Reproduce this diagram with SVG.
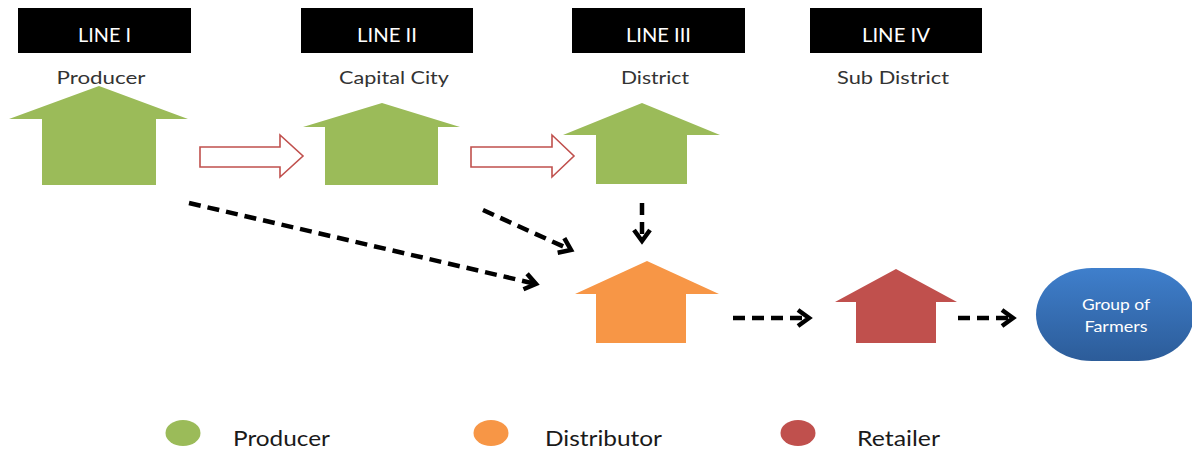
<svg xmlns="http://www.w3.org/2000/svg" width="1192" height="453" viewBox="0 0 1192 453">
  <defs>
    <style>
      .hdr { fill: #000; }
      .hdr-text { font-family: Lato, "Open Sans", sans-serif; font-size: 19px; fill: #fff; text-anchor: middle; }
      .lvl { font-family: Lato, "Open Sans", sans-serif; font-size: 18px; fill: #333; text-anchor: middle; }
      .producer { fill: #9bbb59; }
      .distributor { fill: #f79646; }
      .retailer { fill: #c0504d; }
      .hollow { fill: #fff; stroke: #c0504d; stroke-width: 1.6; stroke-linejoin: miter; }
      .dash { fill: none; stroke: #000; stroke-width: 4.5; stroke-dasharray: 12 7; marker-end: url(#chevron); }
      .legend { font-family: Lato, "Open Sans", sans-serif; font-size: 21px; fill: #1a1a1a; }
      .farm-text { font-family: Lato, "Open Sans", sans-serif; font-size: 15px; fill: #fff; text-anchor: middle; }
    </style>
    <marker id="chevron" markerUnits="userSpaceOnUse" markerWidth="24" markerHeight="24" viewBox="-14 -12 20 24" refX="0" refY="0" orient="auto">
      <path d="M-11,-8 L0,0 L-11,8" fill="none" stroke="#000" stroke-width="4.5" stroke-linejoin="miter" stroke-linecap="butt"/>
    </marker>
    <linearGradient id="blueFill" x1="0" y1="0" x2="0" y2="1">
      <stop offset="0" stop-color="#3f7fcc"/>
      <stop offset="1" stop-color="#2c5c99"/>
    </linearGradient>
  </defs>

  <rect width="1192" height="453" fill="#fff"/>

  <!-- column headers -->
  <g id="line-1">
    <rect class="hdr" x="18" y="8" width="173" height="45"/>
    <text class="hdr-text" x="104.5" y="42" textLength="53" lengthAdjust="spacingAndGlyphs">LINE I</text>
    <text class="lvl" x="101" y="84" textLength="89" lengthAdjust="spacingAndGlyphs">Producer</text>
  </g>
  <g id="line-2">
    <rect class="hdr" x="301" y="8" width="172" height="45"/>
    <text class="hdr-text" x="387" y="42" textLength="60" lengthAdjust="spacingAndGlyphs">LINE II</text>
    <text class="lvl" x="394" y="84" textLength="110" lengthAdjust="spacingAndGlyphs">Capital City</text>
  </g>
  <g id="line-3">
    <rect class="hdr" x="572" y="8" width="173" height="45"/>
    <text class="hdr-text" x="658.5" y="42" textLength="65" lengthAdjust="spacingAndGlyphs">LINE III</text>
    <text class="lvl" x="655" y="84" textLength="68" lengthAdjust="spacingAndGlyphs">District</text>
  </g>
  <g id="line-4">
    <rect class="hdr" x="810" y="8" width="172" height="45"/>
    <text class="hdr-text" x="896" y="42" textLength="68" lengthAdjust="spacingAndGlyphs">LINE IV</text>
    <text class="lvl" x="893" y="84" textLength="112" lengthAdjust="spacingAndGlyphs">Sub District</text>
  </g>

  <!-- producer houses -->
  <g id="producer-1">
    <polygon class="producer" points="99,86 188,119 156,119 156,185 42,185 42,119 9,119"/>
  </g>
  <g id="producer-2">
    <polygon class="producer" points="382,103 460,127 438,127 438,185 325,185 325,127 303,127"/>
  </g>
  <g id="producer-3">
    <polygon class="producer" points="642,103 720,135 687,135 687,184 596,184 596,135 563,135"/>
  </g>

  <!-- distributor and retailer -->
  <g id="distributor">
    <polygon class="distributor" points="647,261 719,294 686,294 686,343 596,343 596,294 575,294"/>
  </g>
  <g id="retailer">
    <polygon class="retailer" points="896,269 957,302 936,302 936,343 856,343 856,302 835,302"/>
  </g>

  <!-- end customer -->
  <g id="farmers">
    <rect x="1036" y="268" width="158" height="93" rx="56" ry="46.5" fill="url(#blueFill)"/>
    <text class="farm-text" x="1116" y="310" textLength="68" lengthAdjust="spacingAndGlyphs">Group of</text>
    <text class="farm-text" x="1116" y="332" textLength="63" lengthAdjust="spacingAndGlyphs">Farmers</text>
  </g>

  <!-- connectors -->
  <g id="connectors">
    <polygon class="hollow" points="200,147 280,147 280,135 303,156 280,177 280,167 200,167"/>
    <polygon class="hollow" points="471,147 552,147 552,135 574,156 552,177 552,167 471,167"/>
    <line class="dash" x1="189" y1="203" x2="536" y2="284"/>
    <line class="dash" x1="483" y1="210" x2="571" y2="250"/>
    <line class="dash" x1="642" y1="203" x2="642" y2="241"/>
    <line class="dash" x1="733" y1="318" x2="809" y2="318"/>
    <line class="dash" x1="958" y1="318" x2="1013" y2="318"/>
  </g>

  <!-- legend -->
  <g id="legend">
    <ellipse class="producer" cx="183" cy="433" rx="17.5" ry="13"/>
    <text class="legend" x="233" y="446" textLength="97" lengthAdjust="spacingAndGlyphs">Producer</text>
    <ellipse class="distributor" cx="491" cy="433" rx="17.5" ry="13"/>
    <text class="legend" x="545" y="446" textLength="117" lengthAdjust="spacingAndGlyphs">Distributor</text>
    <ellipse class="retailer" cx="798" cy="433" rx="17.5" ry="13"/>
    <text class="legend" x="857" y="446" textLength="83" lengthAdjust="spacingAndGlyphs">Retailer</text>
  </g>
</svg>
